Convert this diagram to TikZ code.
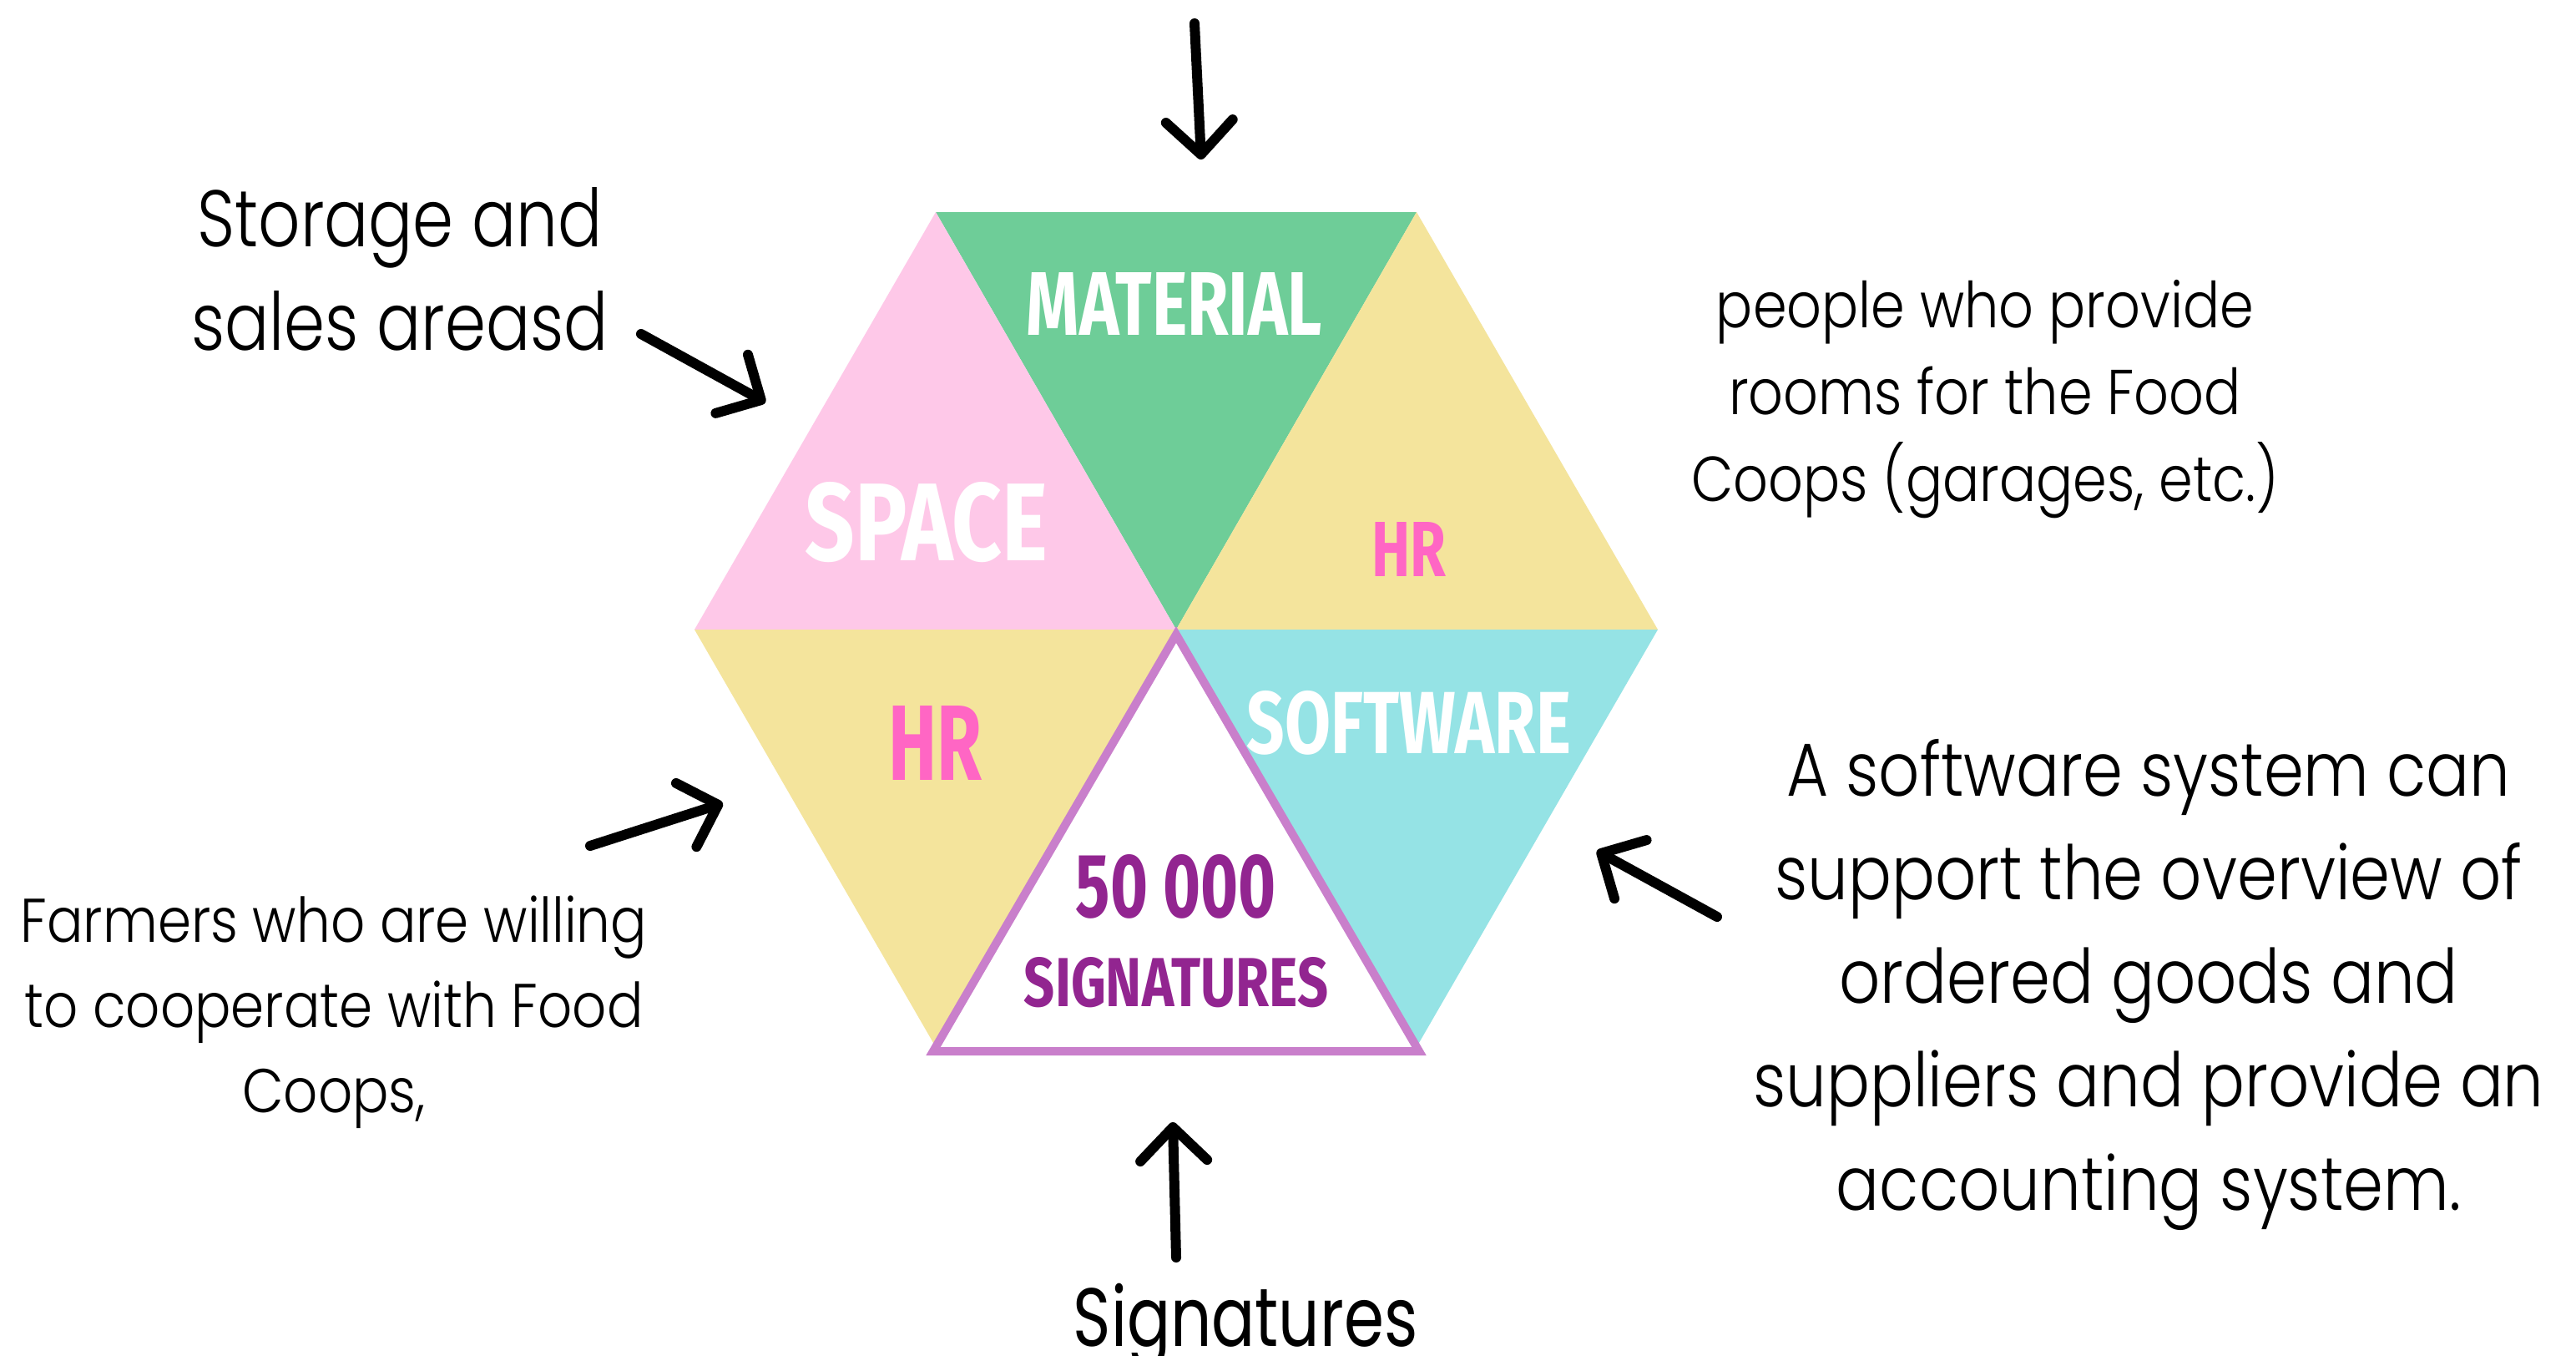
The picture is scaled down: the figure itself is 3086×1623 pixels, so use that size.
\documentclass[tikz,border=0pt]{standalone}
\usepackage{fontspec}
\usepackage{graphicx}
\setmainfont{Poppins Light}
\newfontfamily\sigfont{Poppins}
\newfontfamily\dispfont{Fira Sans}
\usetikzlibrary{arrows.meta}
\definecolor{hexgreen}{HTML}{6ECD98}
\definecolor{hexpink}{HTML}{FEC8E8}
\definecolor{hexyellow}{HTML}{F4E49C}
\definecolor{hexcyan}{HTML}{95E3E5}
\definecolor{borderpurple}{HTML}{C97FCB}
\definecolor{hrpink}{HTML}{FF66C4}
\definecolor{sigpurple}{HTML}{922590}
\tikzset{
  ptr/.style={line width=12pt, line cap=round, -{Straight Barb[length=40pt,width=80pt,round]}},
  lbl/.style={inner sep=0pt, anchor=center},
  txt/.style={inner sep=0pt, anchor=base, text=black},
}
\newcommand{\lab}[3]{\resizebox{#1pt}{#2pt}{\dispfont\bfseries #3}}
\begin{document}
\begin{tikzpicture}[x=1pt,y=-1pt]
\useasboundingbox (0,0) rectangle (3086,1623);
\fill[white] (0,0) rectangle (3086,1623);
% hexagon vertices
\coordinate (C)  at (1409,754);
\coordinate (TL) at (1121,254);
\coordinate (TR) at (1697,254);
\coordinate (L)  at (832,754);
\coordinate (R)  at (1986,754);
\coordinate (BL) at (1121,1254);
\coordinate (BR) at (1697,1254);
\fill[hexgreen]  (TL) -- (TR) -- (C) -- cycle;
\fill[hexpink]   (TL) -- (L) -- (C) -- cycle;
\fill[hexyellow] (TR) -- (R) -- (C) -- cycle;
\fill[hexyellow] (L) -- (BL) -- (C) -- cycle;
\fill[hexcyan]   (R) -- (BR) -- (C) -- cycle;
\coordinate (WA) at (1409,760);
\coordinate (WL) at (1118,1259);
\coordinate (WR) at (1700,1259);
\filldraw[fill=white, draw=borderpurple, line width=10pt] (WA) -- (WL) -- (WR) -- cycle;
% labels
\node[lbl] (material) at (1407,364) {\textcolor{white}{\lab{354}{75}{MATERIAL}}};
\node[lbl] (space) at (1110,626) {\textcolor{white}{\lab{291}{94}{SPACE}}};
\node[lbl] (hrr) at (1688,658) {\textcolor{hrpink}{\lab{89}{65}{HR}}};
\node[lbl] (hrl) at (1120,890) {\textcolor{hrpink}{\lab{112}{89}{HR}}};
\node[lbl] (software) at (1688,866) {\textcolor{white}{\lab{388}{75}{SOFTWARE}}};
\node[lbl] (num) at (1409,1062) {\textcolor{sigpurple}{\lab{240}{75}{50 000}}};
\node[lbl] (sigs) at (1409,1177) {\textcolor{sigpurple}{\lab{364}{59}{SIGNATURES}}};
% texts
\node[txt] (storage) at (479,295) {\scalebox{0.82}[1]{\fontsize{96}{124}\selectfont\begin{tabular}[t]{@{}c@{}}Storage and\\sales areasd\end{tabular}}};
\node[txt] (people) at (2378,392) {\scalebox{0.86}[1]{\fontsize{76}{104}\selectfont\begin{tabular}[t]{@{}c@{}}people who provide\\rooms for the Food\\Coops (garages, etc.)\end{tabular}}};
\node[txt] (softtxt) at (2574,953) {\scalebox{0.855}[1]{\fontsize{90}{124}\selectfont\begin{tabular}[t]{@{}c@{}}A software system can\\support the overview of\\ordered goods and\\suppliers and provide an\\accounting system.\end{tabular}}};
\node[txt] (farmers) at (400,1128) {\scalebox{0.87}[1]{\fontsize{74}{102}\selectfont\begin{tabular}[t]{@{}c@{}}Farmers who are willing\\to cooperate with Food\\Coops,\end{tabular}}};
\node[txt] (signat) at (1492,1612) {\scalebox{0.78}[1]{\sigfont\fontsize{99}{120}\selectfont Signatures}};
% arrows
\coordinate (a1s) at (1431,28);   \coordinate (a1e) at (1439,191);
\coordinate (a2s) at (768,400);   \coordinate (a2e) at (917,482);
\coordinate (a3s) at (707,1013);  \coordinate (a3e) at (866,962);
\coordinate (a4s) at (2057,1098); \coordinate (a4e) at (1913,1019);
\coordinate (a5s) at (1409,1506); \coordinate (a5e) at (1405,1344);
\draw[ptr] (a1s) -- (a1e);
\draw[ptr] (a2s) -- (a2e);
\draw[ptr] (a3s) -- (a3e);
\draw[ptr] (a4s) -- (a4e);
\draw[ptr] (a5s) -- (a5e);
\end{tikzpicture}
\end{document}
